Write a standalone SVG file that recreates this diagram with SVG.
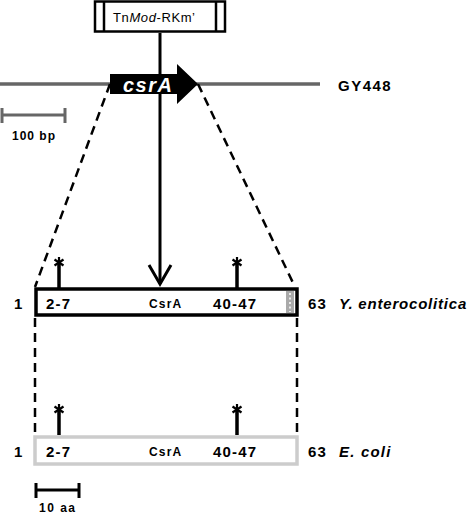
<svg xmlns="http://www.w3.org/2000/svg" width="473" height="515" viewBox="0 0 473 515">
<style>
text{font-family:"Liberation Sans",Arial,sans-serif;font-weight:bold;fill:#000}
.lbl{font-size:15px;letter-spacing:1.2px}
.sm{font-size:12px;letter-spacing:1.2px}
.it{font-style:italic}
.dash{stroke:#000;stroke-width:2.5;stroke-dasharray:9,6;fill:none}
.pin{stroke:#000;stroke-width:3.5;fill:none}
.ast{stroke:#000;stroke-width:2.2;fill:none}
</style>
<defs>
<g id="star">
<line class="ast" x1="0" y1="-6" x2="0" y2="5"/>
<line class="ast" x1="-4.5" y1="-3.5" x2="4.5" y2="2.5"/>
<line class="ast" x1="4.5" y1="-3.5" x2="-4.5" y2="2.5"/>
</g>
</defs>
<g id="genome">
<line x1="0" y1="84" x2="320" y2="84" stroke="#666" stroke-width="3.5"/>
<text x="338" y="91" class="lbl" style="letter-spacing:1.5px">GY448</text>
</g>
<g id="scale-bp">
<path d="M2,115 H65 M2,108 V123 M65,108 V123" stroke="#666" stroke-width="3" fill="none"/>
<text x="12" y="140" class="sm" style="letter-spacing:1px">100 bp</text>
</g>
<g id="connectors">
<line x1="110" y1="84" x2="35" y2="287" class="dash"/>
<line x1="198" y1="84" x2="295" y2="287" class="dash"/>
<line x1="35" y1="318" x2="35" y2="433" class="dash"/>
<line x1="297" y1="318" x2="297" y2="433" class="dash"/>
<line x1="160" y1="33" x2="160" y2="284" stroke="#000" stroke-width="3"/>
<path d="M149,265 L160,284 L171,265" stroke="#000" stroke-width="3" fill="none"/>
</g>
<g id="transposon">
<rect x="95" y="1.5" width="130" height="30" fill="#fff" stroke="#000" stroke-width="2.5"/>
<line x1="104" y1="1.5" x2="104" y2="31.5" stroke="#000" stroke-width="2.5"/>
<line x1="216" y1="1.5" x2="216" y2="31.5" stroke="#000" stroke-width="2.5"/>
<text x="113" y="22" style="font-size:13px;font-weight:normal;letter-spacing:0.6px">Tn<tspan class="it">Mod</tspan>-RKm’</text>
</g>
<g id="csrA-gene">
<path d="M110,74 H177 V64 L198,84 L177,104 V94 H110 Z" fill="#000"/>
<line x1="160" y1="74" x2="160" y2="94" stroke="#000" stroke-width="3"/>
<text x="123" y="92" class="it" style="font-size:20px;letter-spacing:1.5px;fill:#fff">csrA</text>
</g>
<g id="yent">
<rect x="36" y="289" width="261" height="26" fill="#fff" stroke="#000" stroke-width="3.5"/>
<rect x="286" y="291" width="8" height="22" fill="#aaa"/>
<line x1="290" y1="293" x2="290" y2="312" stroke="#fff" stroke-width="1.5" stroke-dasharray="2,2.5"/>
<line x1="59" y1="263" x2="59" y2="288" class="pin"/>
<use href="#star" x="59" y="263"/>
<line x1="237" y1="263" x2="237" y2="288" class="pin"/>
<use href="#star" x="237" y="263"/>
<text x="14" y="309" class="lbl">1</text>
<text x="46" y="309" class="lbl">2-7</text>
<text x="149" y="308" class="sm">CsrA</text>
<text x="213" y="309" class="lbl">40-47</text>
<text x="308" y="309" class="lbl">63</text>
<text x="339" y="309" class="lbl it" style="letter-spacing:0.8px">Y. enterocolitica</text>
</g>
<g id="ecoli">
<rect x="35" y="437" width="262" height="27" fill="#fff" stroke="#ccc" stroke-width="3.5"/>
<line x1="59" y1="410" x2="59" y2="435" class="pin"/>
<use href="#star" x="59" y="410"/>
<line x1="237" y1="410" x2="237" y2="435" class="pin"/>
<use href="#star" x="237" y="410"/>
<text x="14" y="457" class="lbl">1</text>
<text x="46" y="457" class="lbl">2-7</text>
<text x="149" y="456" class="sm">CsrA</text>
<text x="213" y="457" class="lbl">40-47</text>
<text x="308" y="457" class="lbl">63</text>
<text x="339" y="457" class="lbl it">E. coli</text>
</g>
<g id="scale-aa">
<path d="M36,490 H79 M36,483 V498 M79,483 V498" stroke="#000" stroke-width="3" fill="none"/>
<text x="39" y="512" class="sm" style="letter-spacing:1.5px">10 aa</text>
</g>
</svg>
